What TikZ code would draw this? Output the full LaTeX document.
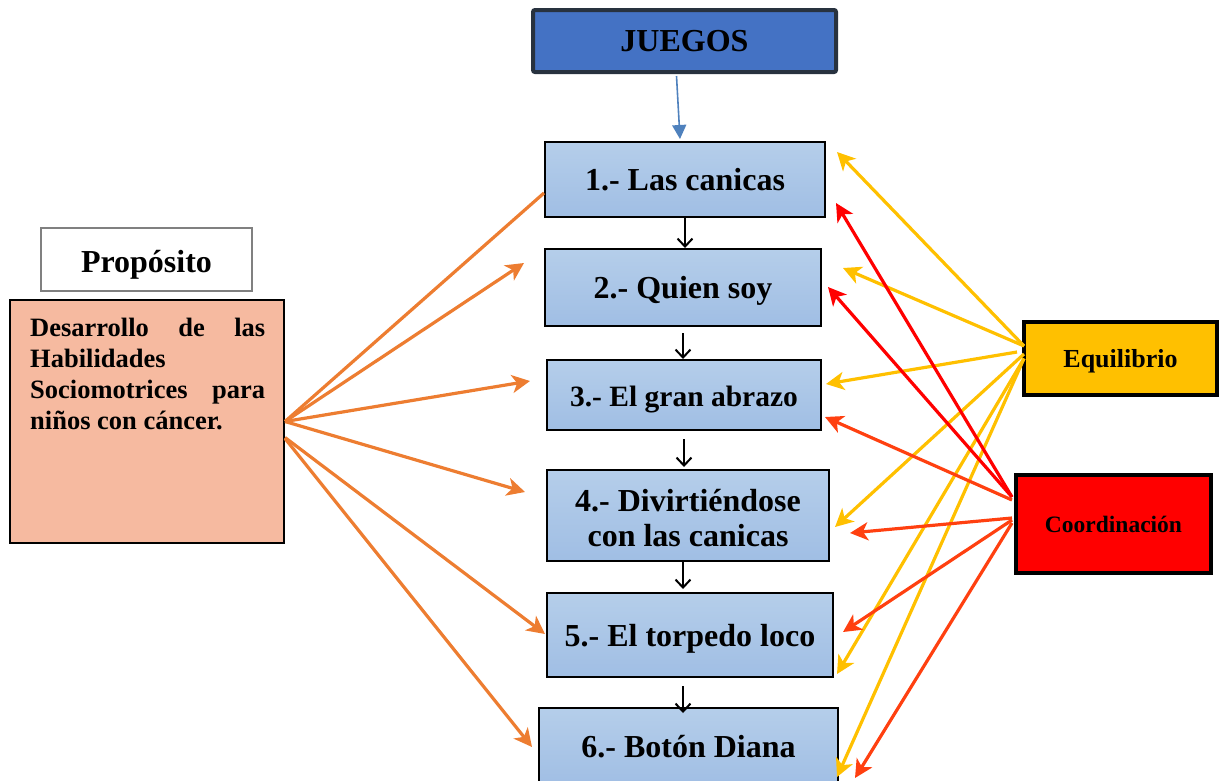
\documentclass[tikz,border=0pt]{standalone}
\usepackage{fontspec}
\setmainfont{Liberation Serif}
\usetikzlibrary{arrows.meta,calc}
\definecolor{juegosfill}{HTML}{4472C4}
\definecolor{juegosdraw}{HTML}{28323F}
\definecolor{btop}{HTML}{B5CEEA}
\definecolor{bbot}{HTML}{A0BEE4}
\definecolor{pinkfill}{HTML}{F6BAA0}
\definecolor{propdraw}{HTML}{808080}
\definecolor{eqfill}{HTML}{FFC000}
\definecolor{cofill}{HTML}{FF0000}
\definecolor{orangeln}{HTML}{ED7D31}
\definecolor{yellowln}{HTML}{FFC000}
\definecolor{redln}{HTML}{FF0000}
\definecolor{redorln}{HTML}{FF4010}
\definecolor{blueln}{HTML}{4F81BD}
\begin{document}
\begin{tikzpicture}[x=1pt,y=-1pt,
  game/.style={draw=black, line width=2pt, top color=btop, bottom color=bbot,
    inner sep=0pt, align=center, text height=21pt, text depth=0pt,
    font=\bfseries\fontsize{32}{35}\selectfont},
  colarrow/.style={line width=3.2pt, -{Stealth[length=18pt,width=18pt,inset=5pt]}},
  blkarrow/.style={draw=black, line width=2pt, -{Straight Barb[length=8pt,width=15pt]}},
  orl/.style={colarrow, draw=orangeln, color=orangeln},
  yel/.style={colarrow, draw=yellowln, color=yellowln},
  rdl/.style={colarrow, draw=redln, color=redln},
  rol/.style={colarrow, draw=redorln, color=redorln}]
\useasboundingbox (0,0) rectangle (1220,780);
\clip (0,0) rectangle (1220,780);

% top box
\node[draw=juegosdraw, line width=4pt, fill=juegosfill, rounded corners=2pt,
  minimum width=303pt, minimum height=62pt, inner sep=0pt, text height=21pt, text depth=0pt,
  font=\bfseries\fontsize{32}{36}\selectfont] (juegos) at (684.5,41) {JUEGOS};

% game boxes
\node[game, minimum width=280pt, minimum height=75pt] (b1) at (685,179.5) {1.- Las canicas};
\node[game, minimum width=276pt, minimum height=77pt] (b2) at (683,287.5) {2.- Quien soy};
\node[game, minimum width=274pt, minimum height=70pt, text height=23pt,
  font=\bfseries\fontsize{29.5}{34}\selectfont] (b3) at (684,395) {3.- El gran abrazo};
\node[game, minimum width=282pt, minimum height=91pt] (b4) at (688,515.5) {};
\node[align=center, inner sep=0pt, font=\bfseries\fontsize{32}{35}\selectfont] (b4t) at (688,518.5)
  {4.- Divirtiéndose\\con las canicas};
\node[game, minimum width=286pt, minimum height=84pt, text height=23pt] (b5) at (690,635) {5.- El torpedo loco};
\node[game, minimum width=299pt, minimum height=78pt] (b6) at (688.5,747) {6.- Botón Diana};

% left side
\node[draw=propdraw, line width=2.5pt, fill=white, minimum width=211pt, minimum height=63pt,
  inner sep=0pt, text height=25pt, text depth=0pt,
  font=\bfseries\fontsize{32}{36}\selectfont] (prop) at (146.5,259.5) {Propósito};
\node[draw=black, line width=2pt, fill=pinkfill, minimum width=274pt, minimum height=243pt,
  inner sep=0pt] (pink) at (147,421.5) {};
\node[anchor=north west, align=left, inner sep=0pt,
  font=\bfseries\fontsize{26.5}{31}\selectfont] (ptext) at (30,318)
  {\makebox[235pt][s]{Desarrollo de las}\\Habilidades\\\makebox[235pt][s]{Sociomotrices para}\\niños con cáncer.};

% right side
\node[draw=black, line width=4pt, fill=eqfill, minimum width=193pt, minimum height=73pt,
  inner sep=0pt, text height=18.6pt, text depth=0pt,
  font=\bfseries\fontsize{26}{30}\selectfont] (eq) at (1120.5,358.5) {Equilibrio};
\node[draw=black, line width=4pt, fill=cofill, minimum width=195pt, minimum height=98pt,
  inner sep=0pt, text height=17.5pt, text depth=0pt,
  font=\bfseries\fontsize{23.5}{28}\selectfont] (co) at (1113.5,524) {Coordinación};

% tip coordinates
\coordinate (o2) at (524,263);
\coordinate (o3) at (530,381);
\coordinate (o4) at (525,492);
\coordinate (o5) at (545,634);
\coordinate (o6) at (532,747);
\coordinate (y1) at (837,152);
\coordinate (y2) at (843,268);
\coordinate (y3) at (826,384);
\coordinate (y4) at (835,527);
\coordinate (y5) at (837,674);
\coordinate (y6) at (837,777);
\coordinate (r1) at (836,203);
\coordinate (r2) at (828,287);
\coordinate (r3) at (825,417);
\coordinate (r4) at (850,533);
\coordinate (r5) at (843,632);
\coordinate (r6) at (855,778);

% blue arrow
\draw[blueln, line width=1.6pt, -{Triangle[length=14pt,width=14pt]}]
  ($(juegos.south)+(-8,2)$) -- ($(b1.north)+(-5,-2)$);

% black arrows
\draw[blkarrow] (b1.south) -- (b1.south |- b2.north);
\draw[blkarrow] ($(b2.south)+(0,6)$) -- (b2.south |- b3.north);
\draw[blkarrow] ($(b3.south)+(0,8)$) -- ($(b3.south |- b4.north)+(0,-2)$);
\draw[blkarrow] ($(b4.south)+(-5,0)$) -- ($(b4.south |- b5.north)+(-5,-3)$);
\draw[blkarrow] ($(b5.south)+(-7,8)$) -- ($(b5.south |- b6.north)+(-7,6)$);

% orange arrows from purpose
\draw[orangeln, line width=3.2pt] (pink.east) -- ($(b1.west)+(0,13.5)$);
\draw[orl] (pink.east) -- (o2);
\draw[orl] (pink.east) -- (o3);
\draw[orl] (pink.east) -- (o4);
\draw[orl] ($(pink.east)+(0,16)$) -- (o5);
\draw[orl] ($(pink.east)+(0,17)$) -- (o6);

% yellow arrows from Equilibrio
\draw[yel] ($(eq.west)+(2,-12.5)$) -- (y1);
\draw[yel] ($(eq.west)+(2,-12.5)$) -- (y2);
\draw[yel] ($(eq.west)+(-5,-6.5)$) -- (y3);
\draw[yel] ($(eq.west)+(2,-4.5)$) -- (y4);
\draw[yel] ($(eq.west)+(2,0)$) -- (y5);
\draw[yel] ($(eq.west)+(2,0)$) -- (y6);

% red arrows from Coordinacion
\draw[rdl] ($(co.west)+(-2,-27)$) -- (r1);
\draw[rdl] ($(co.west)+(-2,-27)$) -- (r2);
\draw[rol] ($(co.west)+(-2,-24)$) -- (r3);
\draw[rol] ($(co.west)+(-2,-6)$) -- (r4);
\draw[rol] ($(co.west)+(-2,-4)$) -- (r5);
\draw[rol] ($(co.west)+(-2,-1)$) -- (r6);
\end{tikzpicture}
\end{document}
